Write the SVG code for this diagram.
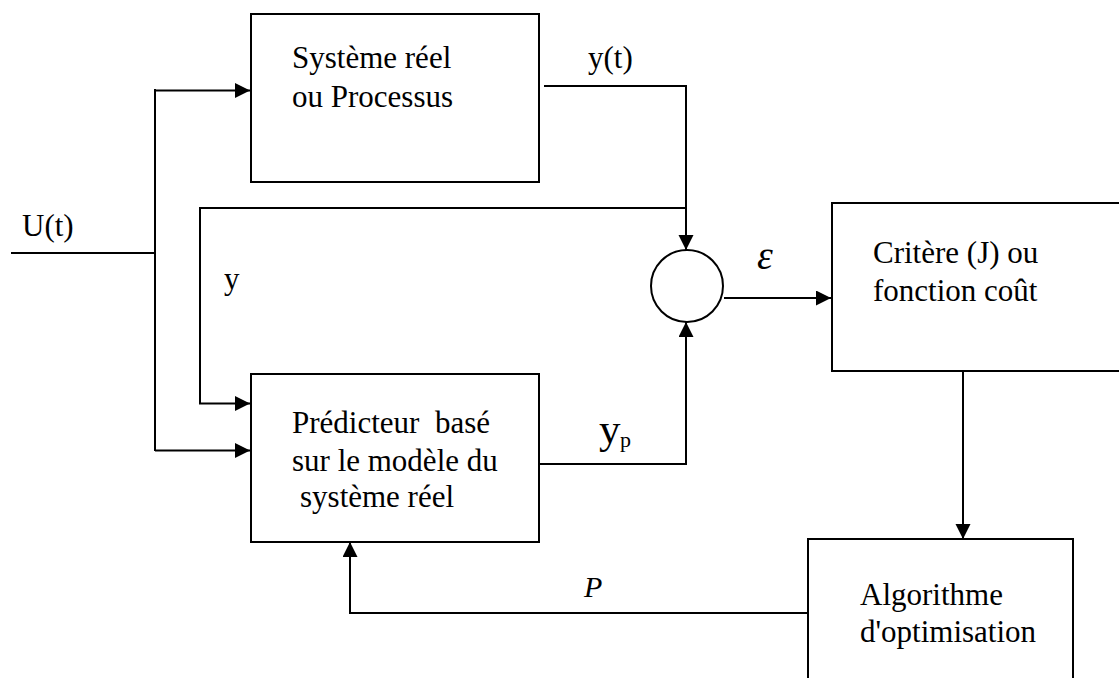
<svg xmlns="http://www.w3.org/2000/svg" width="1119" height="678" viewBox="0 0 1119 678">
<style>
.box{fill:#fff;stroke:#000;stroke-width:2}
.ln{fill:none;stroke:#000;stroke-width:2}
text{font-family:'Liberation Serif','Times New Roman','DejaVu Serif',serif;font-size:31px;fill:#000}
.it{font-style:italic}
</style>
<defs>
<marker id="ah" markerUnits="userSpaceOnUse" markerWidth="16" markerHeight="16" refX="15" refY="7.5" orient="auto">
<path d="M0,0 L15,7.5 L0,15 z" fill="#000"/>
</marker>
</defs>
<rect width="1119" height="678" fill="#fff"/>
<g id="connectors">
<path class="ln" d="M11,253 H155"/>
<path class="ln" d="M155,89 V451"/>
<path class="ln" d="M155,90.5 H250" marker-end="url(#ah)"/>
<path class="ln" d="M155,450.5 H250" marker-end="url(#ah)"/>
<path class="ln" d="M544,86 H686 V250" marker-end="url(#ah)"/>
<path class="ln" d="M686,208 H200 V403.5 H250" marker-end="url(#ah)"/>
<path class="ln" d="M539,464 H686 V322" marker-end="url(#ah)"/>
<path class="ln" d="M724,298 H831" marker-end="url(#ah)"/>
<path class="ln" d="M963,372 V539" marker-end="url(#ah)"/>
<path class="ln" d="M808,613 H350 V542" marker-end="url(#ah)"/>
</g>
<g id="systeme">
<rect class="box" x="251" y="14" width="288" height="168"/>
<text font-family="Liberation Serif" x="292" y="68">Système réel</text>
<text font-family="Liberation Serif" x="292" y="107">ou Processus</text>
</g>
<g id="predicteur">
<rect class="box" x="251" y="374" width="288" height="168"/>
<text x="292" y="433" xml:space="preserve">Prédicteur  basé</text>
<text x="292" y="471">sur le modèle du</text>
<text x="300" y="507">système réel</text>
</g>
<g id="comparateur">
<circle class="box" cx="687" cy="286" r="36"/>
</g>
<g id="critere">
<rect class="box" x="832" y="203" width="300" height="168"/>
<text x="873" y="263">Critère (J) ou</text>
<text x="873" y="301">fonction coût</text>
</g>
<g id="algorithme">
<rect class="box" x="808" y="539" width="265" height="160"/>
<text x="860" y="605">Algorithme</text>
<text x="860" y="642">d'optimisation</text>
</g>
<g id="labels">
<text x="22" y="236">U(t)</text>
<text x="588" y="68">y(t)</text>
<text x="224" y="289">y</text>
<text class="it" x="757" y="269" style="font-size:40px">ε</text>
<text class="it" x="584" y="597" style="font-size:30px">P</text>
<text x="599" y="443" style="font-size:43px">y</text>
<text x="620" y="447" style="font-size:22px">p</text>
</g>
</svg>
